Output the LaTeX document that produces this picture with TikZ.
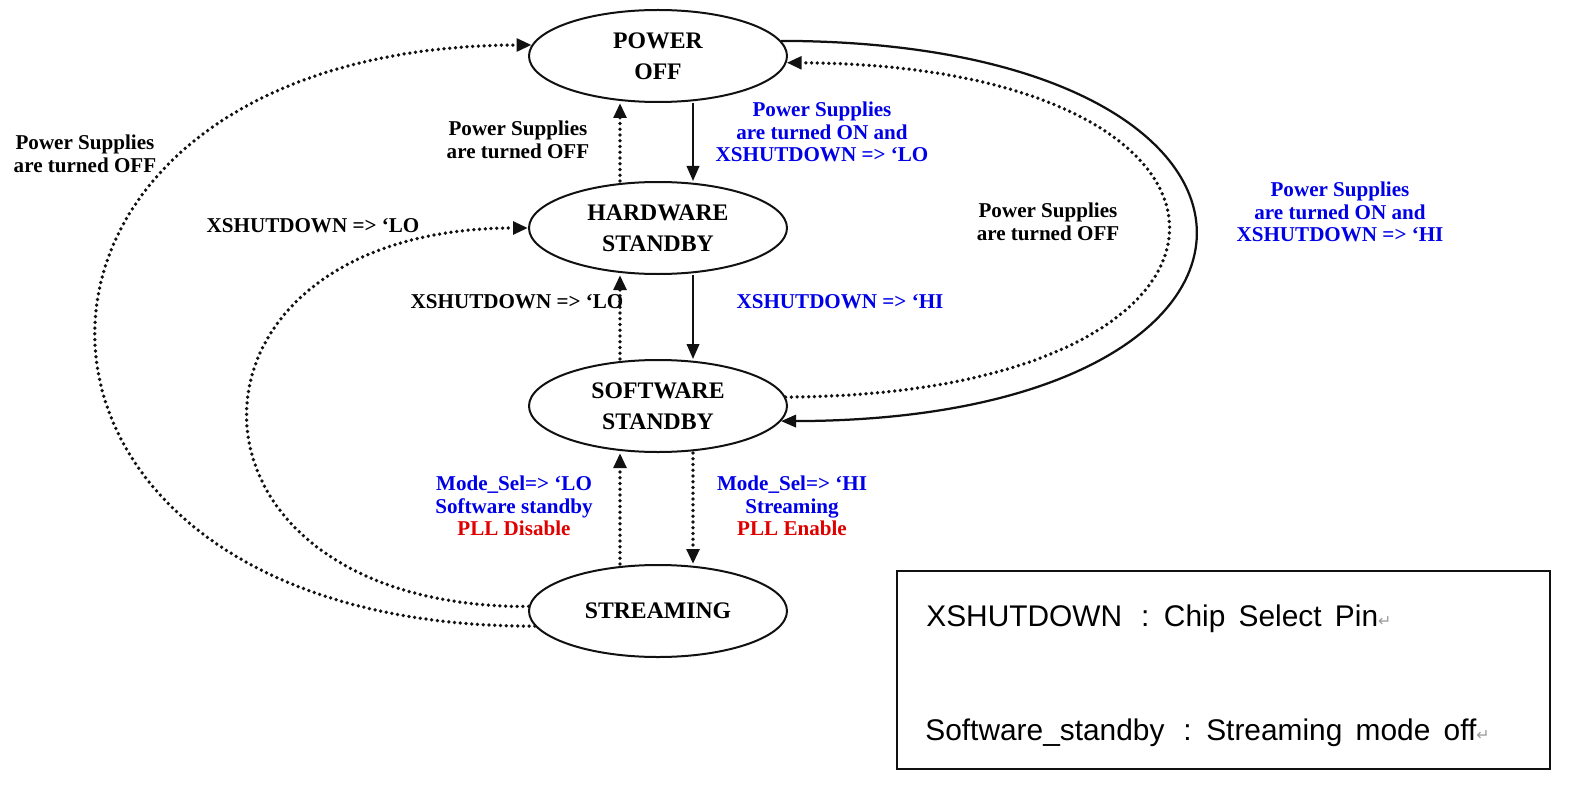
\documentclass[tikz,border=0pt]{standalone}
\usepackage{fontspec}
\setmainfont{Liberation Serif}
\newfontfamily\legfont{Liberation Sans}[WordSpace=1.6]
\newfontfamily\retfont{DejaVu Sans}
\usepackage{tikz}
\usetikzlibrary{shapes,arrows.meta,positioning}
\usepackage{xcolor}
\definecolor{smInk}{HTML}{111111}
\definecolor{smBlue}{HTML}{0000E6}
\definecolor{smRed}{HTML}{E00000}
\definecolor{smGrey}{HTML}{9A9A9A}
\newcommand{\retmark}{{\retfont\fontsize{9}{9}\selectfont\color{smGrey}↵}}
\newcommand{\legsep}{\hspace{3.8mm}:\hspace{2.9mm}}
\tikzset{
  st/.style={ellipse, draw=smInk, line width=0.4mm, minimum width=51.6mm, minimum height=18.4mm, inner sep=0pt, align=center, font=\bfseries\fontsize{13.5}{17.5}\selectfont},
  lbl/.style={align=center, inner sep=0pt, font=\bfseries\fontsize{12}{12.8}\selectfont},
  lblB/.style={lbl, text=smBlue},
  arr/.style={-{Triangle[length=3mm,width=2.5mm]}, line width=0.45mm, draw=smInk},
  darr/.style={arr, line width=0.75mm, line cap=round, dash pattern=on 0pt off 1.15mm},
  legbox/.style={draw=smInk, line width=0.35mm, minimum width=130.6mm, minimum height=39.6mm, inner sep=0pt},
  legtxt/.style={anchor=base west, inner sep=0pt, font=\legfont\fontsize{17}{20}\selectfont},
}

\begin{document}
\begin{tikzpicture}[x=0.2mm, y=-0.2mm]
  \useasboundingbox (0,0) rectangle (1570,785);
  % states
  \node[st] (pwr) at (658,56) {POWER\\OFF};
  \node[st] (hw)  at (658,228) {HARDWARE\\STANDBY};
  \node[st] (sw)  at (658,406) {SOFTWARE\\STANDBY};
  \node[st] (str) at (658,611) {STREAMING};
  % labels
  \node[lbl]  (l1) at (85,154) {Power Supplies\\are turned OFF};
  \node[lbl]  (l2) at (518,140) {Power Supplies\\are turned OFF};
  \node[lblB] (l3) at (822,132) {Power Supplies\\are turned ON and\\XSHUTDOWN => `LO};
  \node[lbl]  (l4) at (313,226) {XSHUTDOWN => `LO};
  \node[lbl]  (l5) at (517,302) {XSHUTDOWN => `LO};
  \node[lblB] (l6) at (840,302) {XSHUTDOWN => `HI};
  \node[lbl]  (l7) at (1048,222) {Power Supplies\\are turned OFF};
  \node[lblB] (l8) at (1340,212) {Power Supplies\\are turned ON and\\XSHUTDOWN => `HI};
  \node[lblB] (l9) at (514,506) {Mode\_Sel=> `LO\\Software standby\\\textcolor{smRed}{PLL Disable}};
  \node[lblB] (l10) at (792,506) {Mode\_Sel=> `HI\\Streaming\\\textcolor{smRed}{PLL Enable}};
  % vertical transitions
  \draw[arr]  ([xshift=7mm]pwr.south) -- ([xshift=7mm]hw.north);
  \draw[darr] ([xshift=-7.6mm]hw.north) -- ([xshift=-7.6mm]pwr.south);
  \draw[arr]  ([xshift=7mm]hw.south) -- ([xshift=7mm]sw.north);
  \draw[darr] ([xshift=-7.6mm]sw.north) -- ([xshift=-7.6mm]hw.south);
  \draw[darr] ([xshift=7mm]sw.south) -- ([xshift=7mm]str.north);
  \draw[darr] ([xshift=-7.6mm]str.north) -- ([xshift=-7.6mm]sw.south);
  % outer loops
  \draw[darr] (str.187) .. controls (-49,628) and (-49,47) .. (pwr.175);
  \draw[darr] (str.178) .. controls (155,608) and (155,228) .. (hw.west);
  \draw[darr] (sw.4) .. controls (1295,395) and (1295,65) .. (pwr.357);
  \draw[arr]  (pwr.7) .. controls (1333,42) and (1333,420) .. (sw.353);
  % legend
  \node[legbox] (leg) at (1223.5,670) {};
  \node[legtxt] (leg1) at (926,626) {XSHUTDOWN\legsep Chip Select Pin\retmark};
  \node[legtxt] (leg2) at (925,740) {Software\_standby\legsep Streaming mode off\retmark};
\end{tikzpicture}
\end{document}
